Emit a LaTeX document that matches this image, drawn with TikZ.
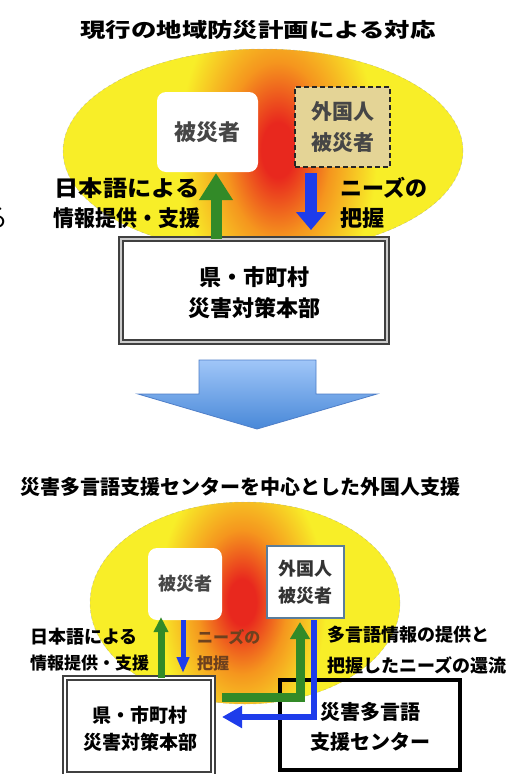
\documentclass[tikz,border=0pt]{standalone}
\usepackage{fontspec}
\setmainfont{Noto Sans CJK JP}
\usetikzlibrary{arrows.meta}
\definecolor{rd}{RGB}{232,40,30}
\definecolor{og}{RGB}{245,150,30}
\definecolor{yl}{RGB}{248,238,40}
\definecolor{gr}{RGB}{50,138,40}
\definecolor{bu}{RGB}{30,60,235}
\definecolor{bl1}{RGB}{160,198,248}
\definecolor{bl2}{RGB}{72,136,216}
\definecolor{bl3}{RGB}{78,126,200}
\definecolor{tan1}{RGB}{228,212,150}
\definecolor{stb}{RGB}{90,125,155}
\definecolor{txg}{RGB}{70,70,70}
\definecolor{brn}{RGB}{110,65,30}
\newcommand\jfs[2]{\fontsize{#1}{#2}\selectfont\bfseries}
\pgfdeclareradialshading{glowshade}{\pgfpoint{0bp}{0bp}}{color(0bp)=(rd); color(5bp)=(rd); color(16bp)=(og); color(30bp)=(yl); color(50bp)=(yl)}
\tikzset{
  jt/.style={inner sep=0pt, align=center},
  ellborder/.style={draw=gray!70, dashed, line width=0.5pt, opacity=0.6},
  vbox/.style={fill=white, rounded corners=9pt, inner sep=0pt},
  hqbox/.style={draw=black!75, double=gray!40, double distance=1.6pt, line width=2.2pt, fill=white, inner sep=0pt},
  hqboxb/.style={draw=black!75, double=white, double distance=2pt, line width=1.8pt, fill=white, inner sep=0pt},
  blockgr/.style={draw=gr, line width=#1},
  blockbu/.style={draw=bu, line width=#1},
  glow/.style={inner sep=0pt, transform shape},
}
\begin{document}
\begin{tikzpicture}[x=1pt,y=-1pt]
\useasboundingbox (0,0) rectangle (527,774);
\fill[white] (0,0) rectangle (527,774);

% stray fragment at left edge
\node[anchor=east, inner sep=0pt, font=\fontsize{26}{26}\selectfont] (frag) at (9,218) {る};

% ---------- top half ----------
\node[jt, font=\jfs{20}{24}] (t1) at (258,30) {\scalebox{1.27}[1]{現行の地域防災計画による対応}};

\begin{scope}
\clip (263,151) ellipse [x radius=200pt, y radius=102pt];
\fill[yl] (60,45) rectangle (466,258);
\node[glow, xscale=3.3, yscale=5.5] (glow1) at (278,150) {\pgfuseshading{glowshade}};
\end{scope}
\draw[ellborder] (263,151) ellipse [x radius=200pt, y radius=102pt];

\node[vbox, minimum width=101pt, minimum height=80pt, font=\jfs{22}{26}, text=txg] (v1) at (207.5,132) {被災者};
\node[draw=black!85, dashed, dash pattern=on 5pt off 3pt, line width=1.5pt, fill=tan1, minimum width=95pt, minimum height=80pt, inner sep=0pt, align=center, font=\jfs{21}{31}, text=txg] (f1) at (342.5,127) {外国人\\被災者};

\node[hqbox, minimum width=266pt, minimum height=103pt] (h1) at (254,290.5) {};
\node[jt, font=\jfs{22}{31}] (h1t) at (254,292.5) {県・市町村\\災害対策本部};

\coordinate (g1s) at (216,239);
\coordinate (g1e) at (216,173);
\draw[blockgr=11pt, -{Triangle[width=32pt,length=27pt]}] (g1s) -- (g1e);
\coordinate (b1s) at (311,173);
\coordinate (b1e) at (311,230);
\draw[blockbu=12pt, -{Triangle[width=29pt,length=18pt]}] (b1s) -- (b1e);

\node[jt, font=\jfs{22}{30}] (l1a) at (127,188) {\scalebox{1.1}[1]{日本語による}};
\node[jt, font=\jfs{22}{30}] (l1b) at (127,218) {\scalebox{0.95}[1]{情報提供・支援}};
\node[jt, anchor=west, font=\jfs{22}{30}] (r1a) at (340,188) {ニーズの};
\node[jt, anchor=west, font=\jfs{22}{30}] (r1b) at (340,218) {把握};

% ---------- big arrow ----------
\shade[top color=bl1, bottom color=bl2, draw=bl3, line width=0.8pt]
  (199,360) -- (316,360) -- (316,394) -- (377,394) -- (257,429) -- (138,394) -- (199,394) -- cycle;

% ---------- bottom half ----------
\node[jt, font=\jfs{20}{24}] (t2) at (240,487) {災害多言語支援センターを中心とした外国人支援};

\begin{scope}
\clip (245,603) ellipse [x radius=155pt, y radius=101pt];
\fill[yl] (88,500) rectangle (402,706);
\node[glow, xscale=2.8, yscale=4.5] (glow2) at (242,602) {\pgfuseshading{glowshade}};
\end{scope}
\draw[ellborder] (245,603) ellipse [x radius=155pt, y radius=101pt];

\node[vbox, minimum width=74pt, minimum height=72pt, font=\jfs{18}{22}, text=txg] (v2) at (185,584) {被災者};
\node[draw=stb, line width=2.5pt, fill=white, minimum width=77pt, minimum height=72pt, inner sep=0pt, align=center, font=\jfs{18}{27}, text=black!80] (f2) at (305.5,582) {外国人\\被災者};

\node[hqboxb, minimum width=148pt, minimum height=96pt] (h2) at (139,726) {};
\node[jt, font=\jfs{19}{27}] (h2t) at (140,728.5) {県・市町村\\災害対策本部};
\node[draw=black, line width=4pt, minimum width=180pt, minimum height=90pt, inner sep=0pt] (c2) at (370,725) {};
\node[jt, font=\jfs{20}{30}] (c2t) at (370,727) {災害多言語\\支援センター};

\coordinate (g2s) at (161,678);
\coordinate (g2e) at (161,617);
\draw[blockgr=7pt, -{Triangle[width=14pt,length=15pt]}] (g2s) -- (g2e);
\coordinate (b2s) at (183,620);
\coordinate (b2e) at (183,673);
\draw[blockbu=5pt, -{Triangle[width=12pt,length=16pt]}] (b2s) -- (b2e);

\coordinate (g3s) at (222,697);
\coordinate (g3e) at (300,622);
\draw[blockgr=9pt, -{Triangle[width=19pt,length=17pt]}] (g3s) -| (g3e);
\coordinate (b3s) at (314,620);
\coordinate (b3e) at (222,717);
\draw[blockbu=6pt, -{Triangle[width=21pt,length=20pt]}] (b3s) |- (b3e);

\node[jt, anchor=west, font=\jfs{18}{26}] (l2a) at (30,637) {日本語による};
\node[jt, anchor=west, font=\jfs{17}{26}] (l2b) at (30,663) {情報提供・支援};
\node[jt, anchor=west, font=\jfs{16}{26}, text=brn] (r2a) at (197,637) {ニーズの};
\node[jt, anchor=west, font=\jfs{16}{26}, text=brn] (r2b) at (197,663) {把握};
\node[jt, anchor=west, font=\jfs{18}{26}] (m2a) at (327,635) {多言語情報の提供と};
\node[jt, anchor=west, font=\jfs{18}{26}] (m2b) at (327,665) {把握したニーズの還流};
\end{tikzpicture}
\end{document}
